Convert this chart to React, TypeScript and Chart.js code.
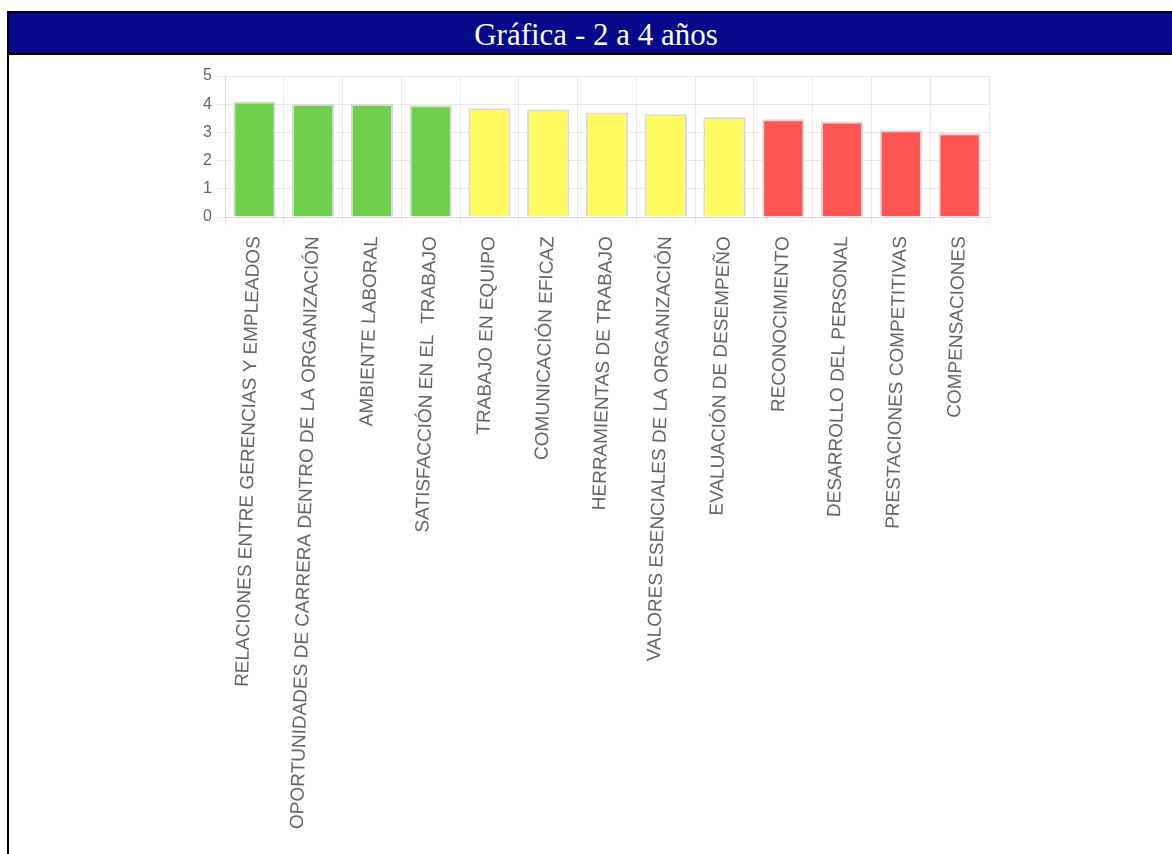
import React, { useEffect, useRef } from "react";
import { Chart, registerables } from "chart.js";

Chart.register(...registerables);

const categories: string[] = [
  "RELACIONES ENTRE GERENCIAS Y EMPLEADOS",
  "OPORTUNIDADES DE CARRERA DENTRO DE LA ORGANIZACIÓN",
  "AMBIENTE LABORAL",
  "SATISFACCIÓN EN EL  TRABAJO",
  "TRABAJO EN EQUIPO",
  "COMUNICACIÓN EFICAZ",
  "HERRAMIENTAS DE TRABAJO",
  "VALORES ESENCIALES DE LA ORGANIZACIÓN",
  "EVALUACIÓN DE DESEMPEÑO",
  "RECONOCIMIENTO",
  "DESARROLLO DEL PERSONAL",
  "PRESTACIONES COMPETITIVAS",
  "COMPENSACIONES",
];

const scores: number[] = [4.1, 4.01, 4.01, 3.96, 3.86, 3.81, 3.71, 3.64, 3.54, 3.47, 3.39, 3.08, 2.97];

const levels: string[] = [
  "alto", "alto", "alto", "alto",
  "medio", "medio", "medio", "medio", "medio",
  "bajo", "bajo", "bajo", "bajo",
];

const yTicks: number[] = [0, 1, 2, 3, 4, 5];

const levelColor: Record<string, string> = {
  alto: "#6fce4b",
  medio: "#fff960",
  bajo: "#ff5454",
};

const title = "Gráfica - 2 a 4 años";

export default function App() {
  const canvasRef = useRef<HTMLCanvasElement | null>(null);

  useEffect(() => {
    if (!canvasRef.current) return;
    const chart = new Chart(canvasRef.current, {
      type: "bar",
      data: {
        labels: categories,
        datasets: [
          {
            data: scores,
            backgroundColor: levels.map((l) => levelColor[l]),
            borderColor: "#d9d9d9",
            borderWidth: 2,
            barPercentage: 0.9,
            categoryPercentage: 0.8,
          },
        ],
      },
      options: {
        responsive: false,
        animation: false,
        devicePixelRatio: 1,
        layout: { padding: { top: 16, right: 21, left: 0, bottom: 0 } },
        plugins: {
          legend: { display: false },
          tooltip: { enabled: false },
        },
        scales: {
          y: {
            min: yTicks[0],
            max: yTicks[yTicks.length - 1],
            afterFit: (s: any) => {
              s.width = 45;
            },
            afterBuildTicks: (s: any) => {
              s.ticks = yTicks.map((v) => ({ value: v }));
            },
            ticks: {
              color: "#666",
              font: { family: "'Liberation Sans', Arial, sans-serif", size: 16 },
              padding: 5,
            },
            grid: { color: "rgba(0,0,0,0.08)", tickLength: 8 },
            border: { color: "rgba(0,0,0,0.08)" },
          },
          x: {
            afterFit: (s: any) => {
              s.height = 637;
            },
            ticks: {
              autoSkip: false,
              minRotation: 88.5,
              maxRotation: 88.5,
              color: "#666",
              font: { family: "'Liberation Sans', Arial, sans-serif", size: 19 },
              padding: 11,
              labelOffset: 0,
            },
            grid: { color: "rgba(0,0,0,0.08)", tickLength: 8, offset: true },
            border: { color: "rgba(0,0,0,0.08)" },
          },
        },
      },
    });
    return () => chart.destroy();
  }, []);

  return (
    <div
      style={{
        position: "absolute",
        left: 0,
        top: 0,
        width: 1172,
        height: 854,
        overflow: "hidden",
        background: "#fff",
      }}
    >
      <div
        style={{
          position: "absolute",
          left: 7,
          top: 11,
          width: 1174,
          height: 900,
          borderTop: "2px solid #000",
          borderLeft: "2px solid #000",
        }}
      >
        <div
          style={{
            height: 40,
            overflow: "hidden",
            background: "#07098a",
            borderBottom: "2px solid #000",
            color: "#fff",
            fontFamily: "'Liberation Serif', 'Times New Roman', serif",
            fontSize: 31,
            lineHeight: "44px",
            textAlign: "center",
          }}
        >
          {title}
        </div>
      </div>
      <canvas
        ref={canvasRef}
        width={830}
        height={794}
        style={{ position: "absolute", left: 180, top: 60 }}
      />
    </div>
  );
}
